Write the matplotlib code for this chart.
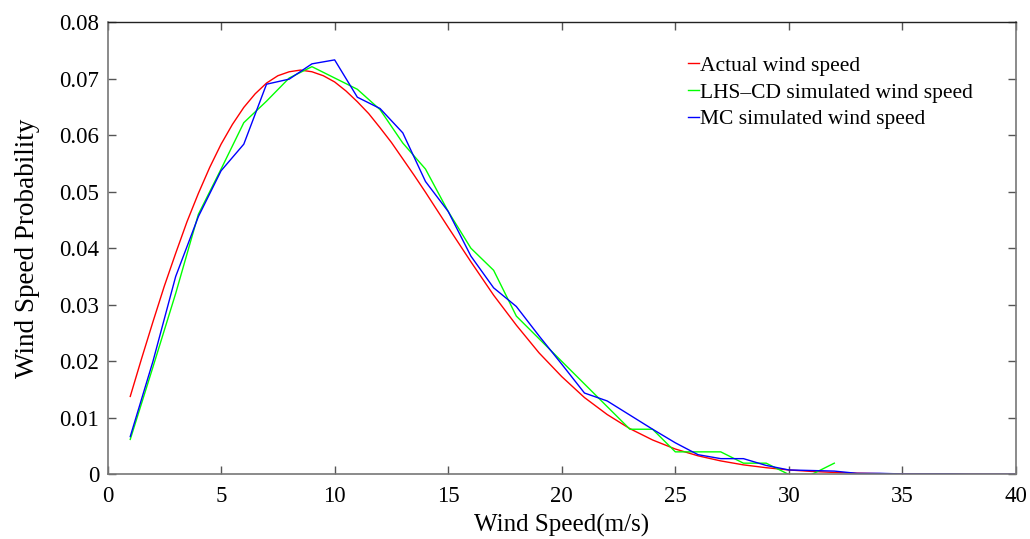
import matplotlib
matplotlib.use("Agg")
import matplotlib.pyplot as plt

# ---- data ----
x_actual = [1, 1.5, 2, 2.5, 3, 3.5, 4, 4.5, 5, 5.5, 6, 6.5, 7, 7.5, 8, 8.5, 9, 9.5, 10, 10.5,
            11, 11.5, 12, 12.5, 13, 13.5, 14, 14.5, 15, 16, 17, 18, 19, 20, 21, 22, 23, 24,
            25, 26, 27, 28, 29, 30, 31, 32, 33, 34, 35, 36, 37, 38, 39, 40]
p_actual = [0.0138, 0.0205, 0.0270, 0.0333, 0.0391, 0.0447, 0.0497, 0.0543, 0.0584, 0.0619,
            0.0649, 0.0673, 0.0692, 0.0705, 0.0712, 0.0715, 0.0712, 0.0705, 0.0694, 0.0678,
            0.0659, 0.0638, 0.0613, 0.0587, 0.0558, 0.0529, 0.0499, 0.0468, 0.0437, 0.0376,
            0.0317, 0.0264, 0.0215, 0.0173, 0.0136, 0.0106, 0.0081, 0.0061, 0.0045, 0.0033,
            0.0024, 0.0017, 0.0012, 0.0008, 0.00054, 0.00036, 0.00023, 0.00015, 0.0001,
            0.00006, 0.00004, 0.00002, 0.00001, 0.00001]

x_lhs = list(range(1, 33))
p_lhs = [0.0062, 0.019, 0.032, 0.046, 0.054, 0.0622, 0.066, 0.0701, 0.0721, 0.0701,
         0.0681, 0.0645, 0.0586, 0.054, 0.0465, 0.040, 0.0361, 0.028, 0.024, 0.020,
         0.016, 0.012, 0.008, 0.008, 0.004, 0.004, 0.004, 0.002, 0.002, 0.0,
         0.0, 0.002]

x_mc = list(range(1, 41))
p_mc = [0.0067, 0.020, 0.035, 0.0456, 0.0537, 0.0584, 0.069, 0.0699, 0.0726, 0.0733,
        0.0667, 0.0647, 0.0604, 0.0518, 0.0465, 0.0386, 0.033, 0.0297, 0.0245, 0.0195,
        0.0144, 0.013, 0.0105, 0.008, 0.0056, 0.0035, 0.0028, 0.0028, 0.0016, 0.0008,
        0.0007, 0.0006, 0.0002, 0.0002, 0.0001, 0.0001, 0.0001, 0.00005, 0.00005, 0.00005]

labels = ["Actual wind speed", "LHS\u2013CD simulated wind speed", "MC simulated wind speed"]
x_ticks = [0, 5, 10, 15, 20, 25, 30, 35, 40]
y_ticks = [0, 0.01, 0.02, 0.03, 0.04, 0.05, 0.06, 0.07, 0.08]
y_ticklabels = ["0", "0.01", "0.02", "0.03", "0.04", "0.05", "0.06", "0.07", "0.08"]

plt.rcParams['font.family'] = ['Liberation Serif', 'DejaVu Serif']

fig = plt.figure(figsize=(10.30, 5.39), dpi=100)
ax = fig.add_axes([0.1044, 0.1197, 0.8820, 0.8395])

ax.plot(x_actual, p_actual, color='#ff0000', lw=1.0, label=labels[0])
ax.plot(x_lhs, p_lhs, color='#00ff00', lw=1.0, label=labels[1])
ax.plot(x_mc, p_mc, color='#0000ff', lw=1.0, label=labels[2])

ax.set_xlim(0, 40)
ax.set_ylim(0, 0.08)
ax.set_xticks(x_ticks)
ax.set_xticklabels([str(t) for t in x_ticks])
ax.set_yticks(y_ticks)
ax.set_yticklabels(y_ticklabels)
ax.tick_params(direction='in', length=6, width=1.0, color='#555555',
               top=True, right=True, labelsize=16.5)
ax.tick_params(axis='x', pad=8)
ax.tick_params(axis='y', pad=6)

for side in ['left', 'bottom', 'right']:
    ax.spines[side].set_color('#777777')
    ax.spines[side].set_linewidth(1.2)
ax.spines['top'].set_color('#222222')
ax.spines['top'].set_linewidth(1.0)

ax.set_xlabel("Wind Speed(m/s)", fontsize=18, labelpad=5)
ax.set_ylabel("Wind Speed Probability", fontsize=19.5, labelpad=14)

leg = ax.legend(loc='upper left', bbox_to_anchor=(0.630, 0.945), frameon=False,
                fontsize=15.5, handlelength=0.5, handletextpad=0.05, labelspacing=0.32,
                borderaxespad=0)

fig.savefig("out.png", dpi=100, facecolor='white')
